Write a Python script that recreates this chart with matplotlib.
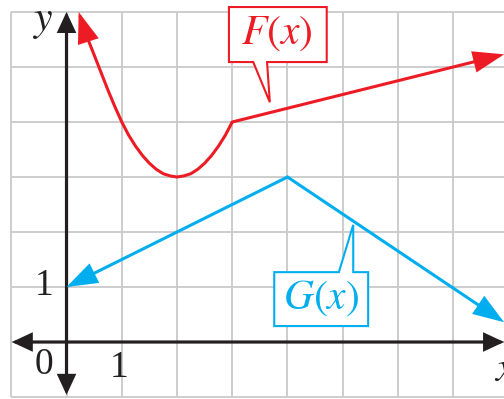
import matplotlib
matplotlib.use("Agg")
import matplotlib.pyplot as plt
from matplotlib.patches import Polygon

plt.rcParams['mathtext.fontset'] = 'stix'
plt.rcParams['font.family'] = ['Liberation Serif', 'DejaVu Serif']

# curve values
f_x = [0.22, 0.35, 0.5, 0.625, 0.75, 0.875, 1.0, 1.125, 1.25, 1.375, 1.5, 1.625,
       1.75, 1.875, 2.0, 2.125, 2.25, 2.375, 2.5, 2.625, 2.75, 2.875, 3.0, 7.92]
f_y = [6.0, 5.6, 5.22, 4.9, 4.58, 4.28, 4.0, 3.76, 3.56, 3.39, 3.25, 3.14,
       3.06, 3.02, 3.0, 3.02, 3.06, 3.14, 3.25, 3.39, 3.56, 3.76, 4.0, 5.23]
g_x = [0.0, 4.0, 7.92]
g_y = [1.0, 3.0, 0.36]

RED = '#ed1c24'
BLUE = '#00aeef'
INK = '#231f20'
GRID = '#c9c9c9'

fig = plt.figure(figsize=(5.04, 3.99), dpi=100)
ax = fig.add_axes([0, 0, 1, 1])
ax.set_xlim(-1.204, 7.919)
ax.set_ylim(-1.036, 6.218)
ax.axis('off')

# grid
ax.vlines(range(-1, 9), -1, 6, color=GRID, lw=1.3, zorder=1)
ax.hlines(range(-1, 7), -1, 9, color=GRID, lw=1.3, zorder=1)

def arrow(p_from, p_to, color, style='-|>', lw=2.2, hl=1.2, hw=0.42, ms=15):
    ax.annotate('', xy=p_to, xytext=p_from,
                arrowprops=dict(arrowstyle=f'{style},head_length={hl},head_width={hw}',
                                color=color, lw=lw, shrinkA=0, shrinkB=0,
                                mutation_scale=ms, joinstyle='miter'),
                zorder=3)

# axes
arrow((-0.99, 0), (7.92, 0), INK, style='<|-|>', lw=2.3, hl=0.75, hw=0.35)
arrow((0, -0.96), (0, 6.0), INK, style='<|-|>', lw=2.3, hl=0.75, hw=0.35)

# F(x)
ax.plot(f_x[1:-1], f_y[1:-1], color=RED, lw=2.2, zorder=4, solid_capstyle='butt')
arrow((f_x[1], f_y[1]), (f_x[0], f_y[0]), RED)
arrow((f_x[-2], f_y[-2]), (f_x[-1], f_y[-1]), RED)

# G(x)
arrow((g_x[1], g_y[1]), (g_x[0], g_y[0]), BLUE)
arrow((g_x[1], g_y[1]), (g_x[2], g_y[2]), BLUE)

# callouts
f_box = [(2.94, 6.09), (4.71, 6.09), (4.71, 5.09), (3.63, 5.09),
         (3.68, 4.36), (3.38, 5.09), (2.94, 5.09)]
ax.add_patch(Polygon(f_box, closed=True, fc='white', ec=RED, lw=1.5, zorder=5))
ax.text(3.81, 5.6, '$F(x)$', color=RED, fontsize=30, ha='center', va='center', zorder=6)

g_box = [(3.76, 1.27), (4.93, 1.27), (5.19, 2.13), (5.19, 1.27),
         (5.46, 1.27), (5.46, 0.29), (3.76, 0.29)]
ax.add_patch(Polygon(g_box, closed=True, fc='white', ec=BLUE, lw=1.5, zorder=5))
ax.text(4.61, 0.8, '$G(x)$', color=BLUE, fontsize=30, ha='center', va='center', zorder=6)

# axis labels and numbers
ax.text(-0.43, 5.82, '$y$', color=INK, fontsize=30, ha='center', va='center')
ax.text(7.94, -0.53, '$x$', color=INK, fontsize=30, ha='center', va='center')
ax.text(-0.41, -0.42, '0', color=INK, fontsize=27, ha='center', va='center')
ax.text(0.95, -0.47, '1', color=INK, fontsize=27, ha='center', va='center')
ax.text(-0.41, 1.02, '1', color=INK, fontsize=27, ha='center', va='center')

fig.savefig('out.png', dpi=100)
